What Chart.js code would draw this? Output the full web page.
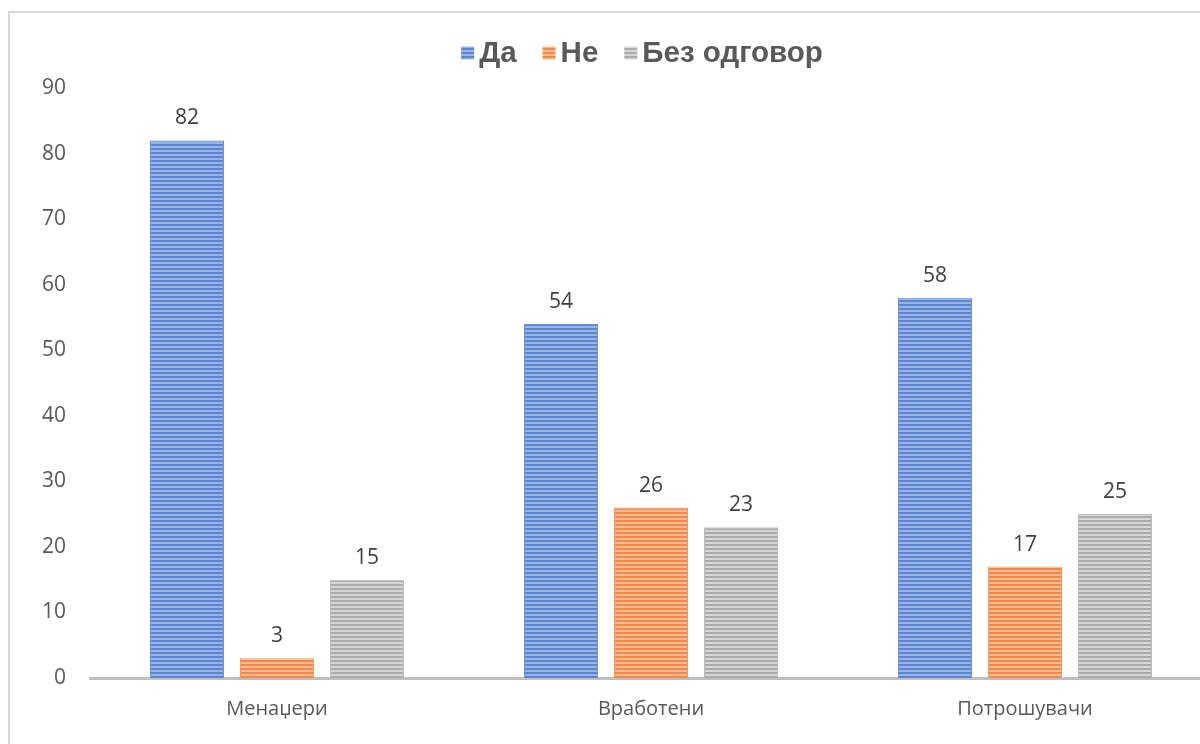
<!DOCTYPE html>
<html>
<head>
<meta charset="utf-8">
<script src="https://cdn.jsdelivr.net/npm/chart.js@4/dist/chart.umd.min.js"></script>
<style>
  html, body { margin: 0; padding: 0; background: #fff; overflow: hidden; }
  #wrap { position: absolute; left: 0; top: 0; width: 1215px; height: 744px; }
  #frame { position: absolute; left: 8px; top: 11px; width: 1300px; height: 800px;
           border-left: 2px solid #d9d9d9; border-top: 2px solid #d9d9d9; pointer-events: none; }
</style>
</head>
<body>
<div id="wrap"><canvas id="c" width="1215" height="744"></canvas></div>
<div id="frame"></div>
<script>
const categories = ['Менаџери', 'Вработени', 'Потрошувачи'];
const seriesNames = ['Да', 'Не', 'Без одговор'];
const yesValues = [82, 54, 58];
const noValues = [3, 26, 17];
const noAnswerValues = [15, 23, 25];
const yTicks = [0, 10, 20, 30, 40, 50, 60, 70, 80, 90];

// Horizontal striped fill for the bars
function stripes(dark, light) {
  const p = document.createElement('canvas');
  p.width = 4; p.height = 4;
  const g = p.getContext('2d');
  g.fillStyle = light; g.fillRect(0, 0, 4, 4);
  g.fillStyle = dark; g.fillRect(0, 0, 4, 2);
  return g.createPattern(p, 'repeat');
}
const ctx = document.getElementById('c').getContext('2d');
const fills = [
  stripes('#5a84d4', '#9ab4e4'),
  stripes('#f08a4a', '#f7bb92'),
  stripes('#ababab', '#d6d6d6')
];
const edges = ['#6f93d8', '#f29a62', '#bdbdbd'];
const baseFont = '"Open Sans", "Noto Sans", sans-serif';

const valueLabels = {
  id: 'valueLabels',
  afterDatasetsDraw(chart) {
    const c = chart.ctx;
    c.save();
    c.font = '21px ' + baseFont;
    c.fillStyle = '#404040';
    c.textAlign = 'center';
    c.textBaseline = 'middle';
    chart.data.datasets.forEach((ds, i) => {
      chart.getDatasetMeta(i).data.forEach((bar, j) => {
        c.fillText(String(ds.data[j]), bar.x, bar.y - 22);
      });
    });
    c.restore();
  }
};

const topLegend = {
  id: 'topLegend',
  afterDraw(chart) {
    const c = chart.ctx;
    c.save();
    c.font = 'bold 29.5px "Liberation Sans", Arial, sans-serif';
    c.textBaseline = 'middle';
    const box = 13, gapBox = 5, gapItem = 26, cy = 53;
    const widths = seriesNames.map(n => c.measureText(n).width);
    let total = 0;
    widths.forEach((w, i) => { total += box + gapBox + w + (i < widths.length - 1 ? gapItem : 0); });
    let x = 642 - total / 2;
    seriesNames.forEach((n, i) => {
      c.fillStyle = fills[i];
      c.fillRect(x, cy - box / 2, box, box);
      x += box + gapBox;
      c.fillStyle = '#595959';
      c.fillText(n, x, cy + 1);
      x += widths[i] + gapItem;
    });
    c.restore();
  }
};

new Chart(ctx, {
  type: 'bar',
  data: {
    labels: categories,
    datasets: [
      { label: seriesNames[0], data: yesValues, backgroundColor: fills[0], borderColor: edges[0], borderWidth: { left: 1, right: 1, top: 1, bottom: 0 } },
      { label: seriesNames[1], data: noValues, backgroundColor: fills[1], borderColor: edges[1], borderWidth: { left: 1, right: 1, top: 1, bottom: 0 } },
      { label: seriesNames[2], data: noAnswerValues, backgroundColor: fills[2], borderColor: edges[2], borderWidth: { left: 1, right: 1, top: 1, bottom: 0 } }
    ]
  },
  options: {
    responsive: false,
    animation: false,
    layout: { padding: { top: 88, right: 3, bottom: 0, left: 0 } },
    datasets: { bar: { barPercentage: 0.822, categoryPercentage: 0.722 } },
    plugins: { legend: { display: false }, tooltip: { enabled: false } },
    scales: {
      x: {
        grid: { display: false },
        border: { display: true, color: '#bfbfbf', width: 3 },
        ticks: { color: '#595959', font: { size: 20, family: baseFont }, padding: 11 },
        afterFit(s) { s.height = 66; }
      },
      y: {
        min: 0, max: 90,
        afterBuildTicks(s) { s.ticks = yTicks.map(v => ({ value: v })); },
        grid: { display: false },
        border: { display: false },
        ticks: { color: '#595959', font: { size: 21, family: baseFont }, padding: 16 },
        afterFit(s) { s.width = 90; }
      }
    }
  },
  plugins: [valueLabels, topLegend]
});
</script>
</body>
</html>
